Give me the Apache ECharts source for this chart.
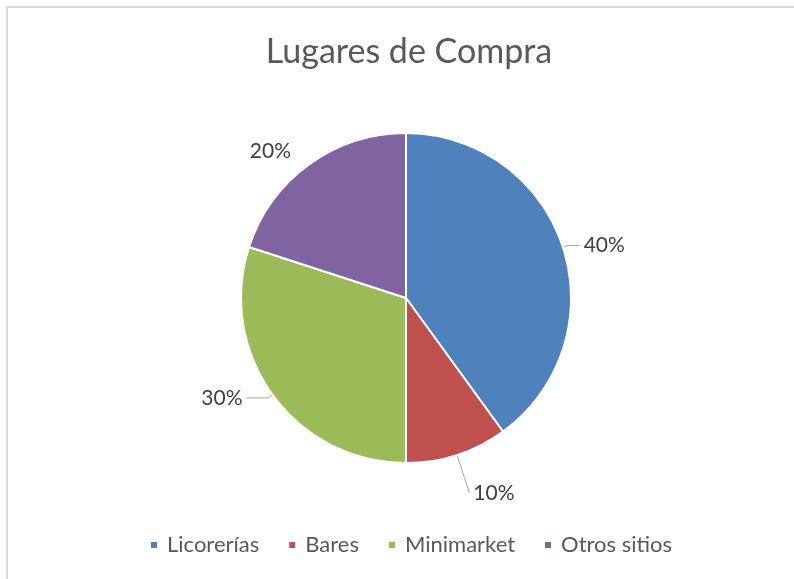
<!DOCTYPE html>
<html>
<head>
<meta charset="utf-8">
<script src="https://cdn.jsdelivr.net/npm/echarts@6/dist/echarts.min.js"></script>
<style>
  html, body { margin: 0; padding: 0; background: #fff; }
  #main { width: 794px; height: 579px; }
</style>
</head>
<body>
<div id="main"></div>
<script>
var titulo = 'Lugares de Compra';
var lugares = ['Licorerías', 'Bares', 'Minimarket', 'Otros sitios'];
var porcentajes = [40, 10, 30, 20];
var colores = ['#4F81BD', '#C0504D', '#9BBB59', '#8064A2'];

// largo de las lineas guia por sector (tipo excel)
var guias = [
  { length: 5, length2: 12, show: true },
  { length: 40, length2: 0, show: true },
  { length: 5, length2: 22, show: true },
  { length: 17, length2: 4, show: false }
];

var myChart = echarts.init(document.getElementById('main'));

var datos = lugares.map(function (nombre, i) {
  return {
    name: nombre,
    value: porcentajes[i],
    itemStyle: { color: colores[i] },
    labelLine: guias[i]
  };
});

var option = {
  backgroundColor: '#fff',
  textStyle: { fontFamily: 'Lato' },
  graphic: [{
    type: 'rect',
    shape: { x: 7, y: 7, width: 820, height: 620 },
    style: { fill: 'none', stroke: '#d9d9d9', lineWidth: 2 },
    silent: true
  }],
  title: {
    text: titulo,
    left: 404,
    top: 30,
    textAlign: 'center',
    textStyle: {
      fontFamily: 'Lato',
      fontSize: 34,
      fontWeight: 'normal',
      color: '#595959'
    }
  },
  legend: {
    left: 149,
    top: 534,
    padding: 0,
    itemWidth: 8,
    itemHeight: 8,
    itemGap: 28,
    icon: 'rect',
    data: lugares,
    textStyle: {
      fontFamily: 'Lato',
      fontSize: 22,
      color: '#595959',
      padding: [0, 0, 0, 4]
    }
  },
  series: [{
    type: 'pie',
    center: [406, 298],
    radius: 165,
    startAngle: 90,
    clockwise: true,
    avoidLabelOverlap: false,
    animation: false,
    itemStyle: { borderColor: '#fff', borderWidth: 2 },
    label: {
      show: true,
      position: 'outside',
      formatter: '{c}%',
      fontFamily: 'Lato',
      fontSize: 21,
      color: '#404040',
      distanceToLabelLine: 4
    },
    labelLine: {
      lineStyle: { color: '#a6a6a6', width: 1 }
    },
    emphasis: { scale: false },
    data: datos
  }]
};
myChart.setOption(option);
</script>
</body>
</html>
